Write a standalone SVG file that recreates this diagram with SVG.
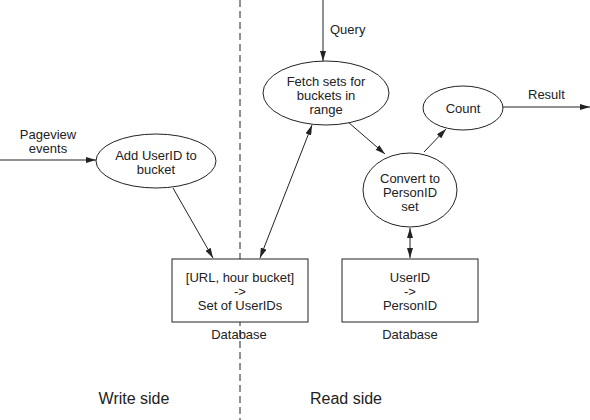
<svg xmlns="http://www.w3.org/2000/svg" width="590" height="420" viewBox="0 0 590 420">
<style>
.n{fill:#fff;stroke:#222;stroke-width:1}
.t{font-family:"Liberation Sans",Arial,sans-serif;font-size:13px;fill:#222;text-anchor:middle}
.big{font-size:16px}
.c{stroke:#222;stroke-width:1;fill:none}
</style>
<defs>
<marker id="a" viewBox="0 0 10 6" refX="10" refY="3" markerWidth="10" markerHeight="6" markerUnits="userSpaceOnUse" orient="auto-start-reverse">
<path d="M0,0L10,3L0,6Z" fill="#222"/>
</marker>
</defs>
<rect width="590" height="420" fill="#fff"/>
<line x1="240" y1="0" x2="240" y2="420" stroke="#222" stroke-width="1" stroke-dasharray="7,4"/>
<g id="connectors">
<line class="c" x1="0" y1="160" x2="96" y2="160" marker-end="url(#a)"/>
<line class="c" x1="323" y1="0" x2="323" y2="61" marker-end="url(#a)"/>
<line class="c" x1="173" y1="188" x2="213" y2="258" marker-end="url(#a)"/>
<line class="c" x1="260" y1="258" x2="312" y2="125" marker-start="url(#a)" marker-end="url(#a)"/>
<line class="c" x1="348" y1="122" x2="385" y2="154" marker-end="url(#a)"/>
<line class="c" x1="424" y1="152" x2="446" y2="129" marker-end="url(#a)"/>
<line class="c" x1="503" y1="107" x2="590" y2="107" marker-end="url(#a)"/>
<line class="c" x1="410" y1="228" x2="410" y2="258" marker-start="url(#a)" marker-end="url(#a)"/>
<text class="t" x="48" y="139">Pageview</text>
<text class="t" x="48" y="153">events</text>
<text class="t" x="330" y="34" text-anchor="start" style="text-anchor:start">Query</text>
<text class="t" x="528" y="99" style="text-anchor:start">Result</text>
</g>
<g id="add">
<ellipse class="n" cx="156" cy="161" rx="60" ry="27"/>
<text class="t" x="156" y="160">Add UserID to</text>
<text class="t" x="156" y="174">bucket</text>
</g>
<g id="fetch">
<ellipse class="n" cx="326" cy="93" rx="63" ry="32"/>
<text class="t" x="326" y="86">Fetch sets for</text>
<text class="t" x="326" y="100">buckets in</text>
<text class="t" x="326" y="114">range</text>
</g>
<g id="count">
<ellipse class="n" cx="463" cy="108" rx="40" ry="22"/>
<text class="t" x="463" y="113">Count</text>
</g>
<g id="convert">
<ellipse class="n" cx="410" cy="190" rx="47" ry="37"/>
<text class="t" x="410" y="183">Convert to</text>
<text class="t" x="410" y="197">PersonID</text>
<text class="t" x="410" y="211">set</text>
</g>
<g id="db1">
<rect class="n" x="172" y="259" width="136" height="63"/>
<text class="t" x="240" y="282">[URL, hour bucket]</text>
<text class="t" x="240" y="296">-&gt;</text>
<text class="t" x="240" y="310">Set of UserIDs</text>
<text class="t" x="239" y="339">Database</text>
</g>
<g id="db2">
<rect class="n" x="342" y="259" width="136" height="63"/>
<text class="t" x="410" y="282">UserID</text>
<text class="t" x="410" y="296">-&gt;</text>
<text class="t" x="410" y="310">PersonID</text>
<text class="t" x="410" y="339">Database</text>
</g>
<text class="t big" x="134" y="404">Write side</text>
<text class="t big" x="346" y="404">Read side</text>
</svg>
